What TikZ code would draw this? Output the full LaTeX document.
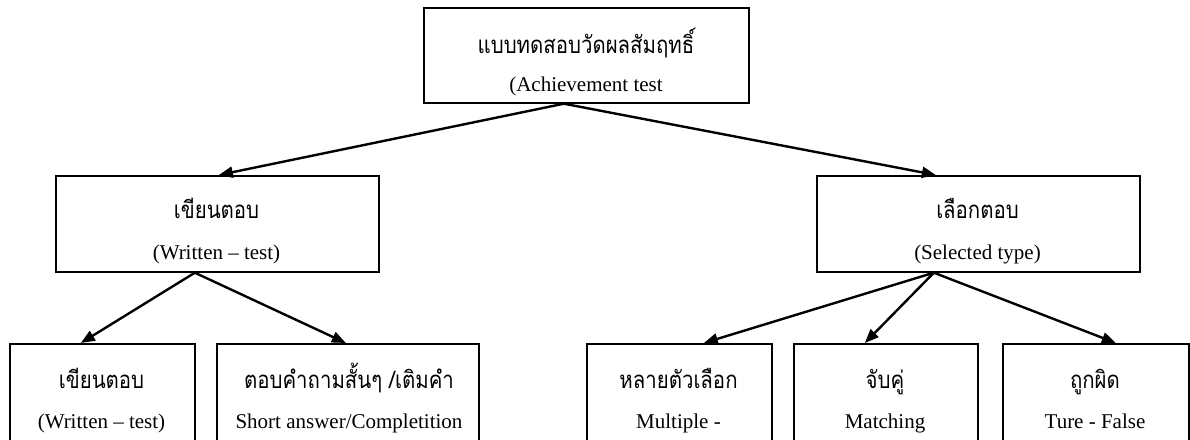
\documentclass[tikz,border=0pt]{standalone}
\usepackage{fontspec}
\setmainfont{Liberation Serif}
\newfontfamily\thaifont[Script=Thai,FakeStretch=0.85]{Loma}
\usetikzlibrary{arrows.meta}
\begin{document}
\begin{tikzpicture}[x=1pt,y=-1pt,
  box/.style={draw,line width=1.7pt,inner sep=0pt,anchor=north west},
  th/.style={font=\thaifont\fontsize{24}{28}\selectfont,anchor=base,inner sep=0pt},
  en/.style={font=\fontsize{21}{25}\selectfont,anchor=base,inner sep=0pt},
  arr/.style={line width=2.4pt,-{Triangle[length=14pt,width=11pt]}}]
\useasboundingbox (0,0) rectangle (1190,439);
\clip (0,0) rectangle (1190,439);
\fill[white] (0,0) rectangle (1190,439);
% boxes
\node[box,minimum width=325pt,minimum height=95pt] (top) at (423,7) {};
\node[box,minimum width=323pt,minimum height=96pt] (ml) at (55,175) {};
\node[box,minimum width=323pt,minimum height=96pt] (mr) at (816,175) {};
\node[box,minimum width=185pt,minimum height=130pt] (b1) at (9,343) {};
\node[box,minimum width=262pt,minimum height=130pt] (b2) at (216,343) {};
\node[box,minimum width=185pt,minimum height=130pt] (b3) at (586,343) {};
\node[box,minimum width=184pt,minimum height=130pt] (b4) at (793,343) {};
\node[box,minimum width=186pt,minimum height=130pt] (b5) at (1002,343) {};
% texts
\node[th] (t1) at (586,53) {แบบทดสอบวัดผลสัมฤทธิ์};
\node[en] (e1) at (586,91) {(Achievement test};
\node[th] (t2) at (216.5,218) {เขียนตอบ};
\node[en] (e2) at (216.5,259) {(Written -- test)};
\node[th] (t3) at (977.5,218) {เลือกตอบ};
\node[en] (e3) at (977.5,259) {(Selected type)};
\node[th] (t4) at (101.5,388) {เขียนตอบ};
\node[en] (e4) at (101.5,428) {(Written -- test)};
\node[th] (t5) at (349,388) {ตอบคำถามสั้นๆ /เติมคำ};
\node[en] (e5) at (349,428) {Short answer/Completition};
\node[th] (t6) at (678.5,388) {หลายตัวเลือก};
\node[en] (e6) at (678.5,428) {Multiple -};
\node[th] (t7) at (885,388) {จับคู่};
\node[en] (e7) at (885,428) {Matching};
\node[th] (t8) at (1095,388) {ถูกผิด};
\node[en] (e8) at (1095,428) {Ture - False};
% arrows
\draw[arr] ([xshift=-22.5pt]top.south) -- ([xshift=1.5pt]ml.north);
\draw[arr] ([xshift=-22.5pt]top.south) -- ([xshift=-42.5pt]mr.north);
\draw[arr] ([xshift=-22.5pt]ml.south) -- ([xshift=-21.5pt]b1.north);
\draw[arr] ([xshift=-22.5pt]ml.south) -- ([xshift=-2pt]b2.north);
\draw[arr] ([xshift=-44.5pt]mr.south) -- ([xshift=24.5pt]b3.north);
\draw[arr] ([xshift=-44.5pt]mr.south) -- ([xshift=-21pt]b4.north);
\draw[arr] ([xshift=-44.5pt]mr.south) -- ([xshift=20pt]b5.north);
\end{tikzpicture}
\end{document}
